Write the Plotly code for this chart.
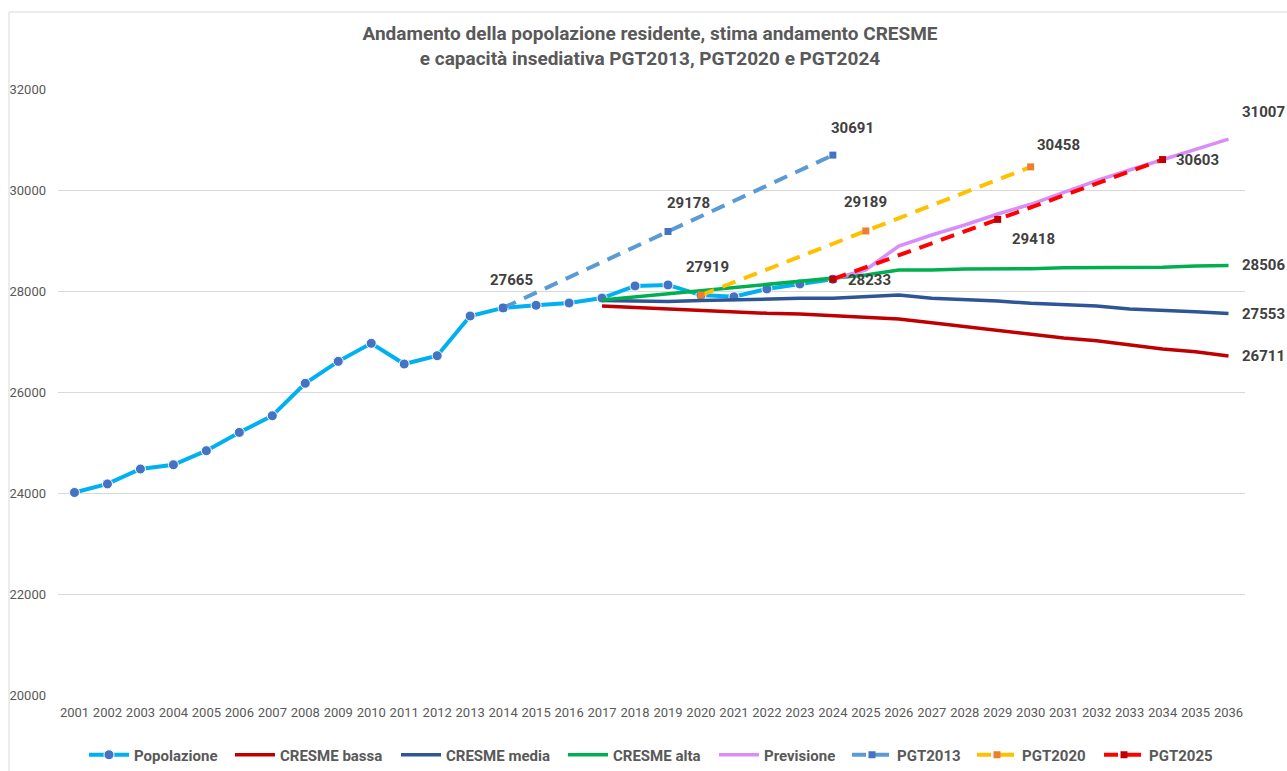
import plotly.graph_objects as go

years_pop = list(range(2001, 2025))
popolazione = [24010, 24180, 24475, 24560, 24838, 25200, 25530, 26172, 26607, 26964,
               26554, 26719, 27505, 27665, 27717, 27762, 27860, 28100, 28120, 27919,
               27885, 28040, 28139, 28233]

years_cresme = list(range(2017, 2037))
cresme_bassa = [27703, 27672, 27642, 27612, 27585, 27558, 27545, 27511, 27478, 27446,
                27370, 27293, 27228, 27149, 27069, 27016, 26931, 26851, 26798, 26711]
cresme_media = [27810, 27800, 27790, 27810, 27830, 27840, 27855, 27858, 27890, 27921,
                27855, 27835, 27802, 27756, 27723, 27703, 27644, 27624, 27591, 27553]
cresme_alta = [27820, 27880, 27940, 28000, 28066, 28130, 28185, 28251, 28317, 28416,
               28416, 28436, 28436, 28440, 28462, 28465, 28466, 28468, 28495, 28506]

years_prev = list(range(2024, 2037))
previsione = [28233, 28420, 28891, 29109, 29307, 29525, 29717, 29947, 30185, 30396,
              30594, 30806, 31007]

pgt2013_years = [2014, 2019, 2024]
pgt2013 = [27665, 29178, 30691]
pgt2020_years = [2020, 2025, 2030]
pgt2020 = [27919, 29189, 30458]
pgt2025_years = [2024, 2029, 2034]
pgt2025 = [28233, 29418, 30603]

x_ticks = list(range(2001, 2037))
y_ticks = [20000, 22000, 24000, 26000, 28000, 30000, 32000]

title_text = ("Andamento della popolazione residente, stima andamento CRESME<br>"
              "e capacità insediativa PGT2013, PGT2020 e PGT2024")

W, H = 1287, 771
L, R, T, B = 58, 42, 89, 76
PW, PH = W - L - R, H - T - B

# left pixel of each legend entry (one legend per series)
legend_left_px = [84, 230, 396, 563, 714, 847, 972, 1099]

fig = go.Figure()

fig.add_trace(go.Scatter(
    x=years_pop, y=popolazione, name="Popolazione", mode="lines+markers",
    line=dict(color="#00B0F0", width=4),
    marker=dict(symbol="circle", size=10, color="#4472C4", line=dict(color="white", width=1)),
    legend="legend", showlegend=True))
fig.add_trace(go.Scatter(
    x=years_cresme, y=cresme_bassa, name="CRESME bassa", mode="lines",
    line=dict(color="#C00000", width=3.5), legend="legend2", showlegend=True))
fig.add_trace(go.Scatter(
    x=years_cresme, y=cresme_media, name="CRESME media", mode="lines",
    line=dict(color="#2F5597", width=3.5), legend="legend3", showlegend=True))
fig.add_trace(go.Scatter(
    x=years_cresme, y=cresme_alta, name="CRESME alta", mode="lines",
    line=dict(color="#00B050", width=3.5), legend="legend4", showlegend=True))
fig.add_trace(go.Scatter(
    x=years_prev, y=previsione, name="Previsione", mode="lines",
    line=dict(color="#D98DF7", width=3.5), legend="legend5", showlegend=True))
fig.add_trace(go.Scatter(
    x=pgt2013_years, y=pgt2013, name="PGT2013", mode="lines+markers",
    line=dict(color="#5B9BD5", width=4, dash="14px,9px"),
    marker=dict(symbol="square", size=7, color="#4472C4"), legend="legend6", showlegend=True))
fig.add_trace(go.Scatter(
    x=pgt2020_years, y=pgt2020, name="PGT2020", mode="lines+markers",
    line=dict(color="#FFC000", width=4, dash="14px,9px"),
    marker=dict(symbol="square", size=7, color="#ED7D31"), legend="legend7", showlegend=True))
fig.add_trace(go.Scatter(
    x=pgt2025_years, y=pgt2025, name="PGT2025", mode="lines+markers",
    line=dict(color="#FF0000", width=4, dash="14px,9px"),
    marker=dict(symbol="square", size=7, color="#C00000"), legend="legend8", showlegend=True))

label_font = dict(family="Roboto", size=15, color="#404040", weight="bold")
annotations = []

def add_label(x, y, dx, dy):
    annotations.append(dict(x=x, y=y, xref="x", yref="y", text=str(y), showarrow=False,
                            xshift=dx, yshift=dy, font=label_font))

add_label(pgt2013_years[0], pgt2013[0], 8, 28)
add_label(pgt2013_years[1], pgt2013[1], 21, 29)
add_label(pgt2013_years[2], pgt2013[2], 20, 27)
add_label(pgt2020_years[0], pgt2020[0], 7, 28)
add_label(pgt2020_years[1], pgt2020[1], 0, 29)
add_label(pgt2020_years[2], pgt2020[2], 28, 22)
add_label(pgt2025_years[0], pgt2025[0], 37, -1)
add_label(pgt2025_years[1], pgt2025[1], 36, -20)
add_label(pgt2025_years[2], pgt2025[2], 35, 0)
add_label(years_prev[-1], previsione[-1], 35, 27)
add_label(years_cresme[-1], cresme_alta[-1], 35, 0)
add_label(years_cresme[-1], cresme_media[-1], 35, 0)
add_label(years_cresme[-1], cresme_bassa[-1], 35, 0)

legend_font = dict(family="Roboto", size=15, color="#595959", weight="bold")
layout_legends = {}
for i, px in enumerate(legend_left_px):
    key = "legend" if i == 0 else f"legend{i + 1}"
    layout_legends[key] = dict(orientation="h", xref="container", x=px / W, xanchor="left",
                               yref="container", y=16 / H, yanchor="middle",
                               font=legend_font, itemwidth=40, bgcolor="rgba(0,0,0,0)")

fig.update_layout(
    width=W, height=H, showlegend=True,
    margin=dict(l=L, r=R, t=T, b=B, autoexpand=False),
    paper_bgcolor="white", plot_bgcolor="white",
    font=dict(family="Roboto", color="#595959"),
    title=dict(text=title_text, x=650 / W, xanchor="center", y=0.948, yref="container",
               yanchor="middle",
               font=dict(family="Roboto", size=19, color="#595959", weight="bold")),
    xaxis=dict(range=[2000.5, 2036.5], tickmode="array", tickvals=x_ticks,
               ticktext=[str(v) for v in x_ticks], showgrid=False, zeroline=False,
               showline=False, tickfont=dict(size=13, color="#595959"), ticks="",
               ticklabelstandoff=8),
    yaxis=dict(range=[20000, 32000], tickmode="array", tickvals=y_ticks,
               ticktext=[str(v) for v in y_ticks], showgrid=True, gridcolor="#D9D9D9",
               gridwidth=1, zeroline=False, showline=False,
               tickfont=dict(size=13, color="#595959"), ticks="", ticklabelstandoff=11),
    annotations=annotations,
    shapes=[dict(type="rect", xref="paper", yref="paper",
                 x0=(9 - L) / PW, x1=(W + 20 - L) / PW,
                 y0=(T + PH - 12) / PH, y1=(T + PH - H - 20) / PH,
                 line=dict(color="#D9D9D9", width=1), fillcolor="rgba(0,0,0,0)", layer="below")],
    **layout_legends,
)

fig.write_html("out.html", config={"displayModeBar": False},
               post_script="document.body.style.margin='0';document.body.style.overflow='hidden';")
